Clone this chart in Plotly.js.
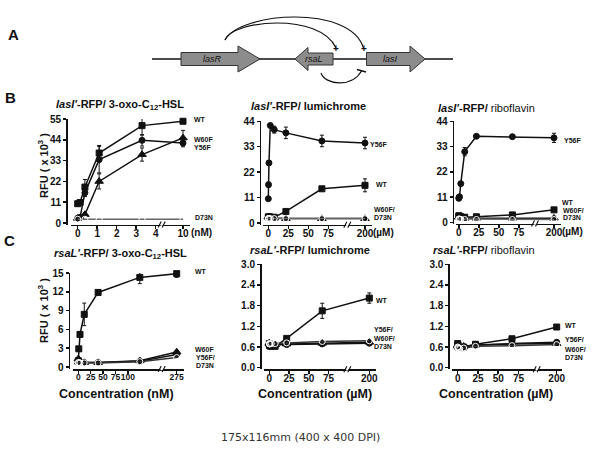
<!DOCTYPE html>
<html><head><meta charset="utf-8">
<script src="https://cdn.plot.ly/plotly-3.0.1.min.js"></script>
<style>html,body{margin:0;padding:0;background:#fff}#chart{width:600px;height:458px}</style>
</head><body><div id="chart"></div>
<script>
// ---------------- DATA ----------------
// Panel B, left: lasI'-RFP / 3-oxo-C12-HSL (nM), RFU x10^3
const hslConcB   = [0, 0.12, 0.37, 1.1, 3.3, 10];
const b1WT       = [10.2, 10.8, 19, 37, 51.5, 53.8];
const b1WTerr    = [0.6, 0.6, 4, 4, 5, 1];
const b1Y56F     = [2.5, 3, 16, 33.5, 43.7, 42.3];
const b1Y56Ferr  = [0.4, 0.4, 2, 7, 3, 2];
const b1W60F     = [2.5, 2.8, 4.5, 22, 36.2, 45];
const b1W60Ferr  = [0.3, 0.3, 1, 4, 3.5, 4];
const b1D73N     = [2, null, 2, 2, 2, 2];

// lumichrome / riboflavin concentrations (uM)
const flavConc   = [0, 0.27, 0.82, 2.5, 7.4, 22, 67, 200];
// Panel B, middle: lasI'-RFP / lumichrome
const b2Y56F     = [10.5, 16.6, 26, 42.2, 40.4, 39, 35.5, 34.6];
const b2Y56Ferr  = [0.5, 1, 1, 0.5, 1.5, 2.5, 2.5, 2.5];
const b2WT       = [2.6, 2.6, 2.6, 2.6, 2.5, 5.0, 14.8, 16.3];
const b2WTerr    = [0.3, 0.3, 0.3, 0.3, 0.3, 0.5, 0.5, 2.8];
const b2W60F     = [2.6, 2.7, 2.7, 2.6, 2.2, 1.9, 1.9, 1.9];
const b2D73N     = [1.9, 1.9, 1.9, 1.9, 1.9, 1.9, 1.9, 1.9];
// Panel B, right: lasI'-RFP / riboflavin
const b3Y56F     = [10.5, 10.8, 11.2, 16.9, 30.8, 37.5, 37.3, 36.8];
const b3Y56Ferr  = [0.5, 0.5, 0.5, 0.5, 1.8, 0.5, 0.5, 2];
const b3WT       = [2.9, 2.8, 2.7, 2.5, 2.3, 2.5, 3.3, 5.5];
const b3W60F     = [2.4, 2.3, 2.2, 2.0, 1.9, 1.9, 1.9, 1.9];
const b3D73N     = [1.5, 1.5, 1.4, 1.4, 1.3, 1.3, 1.3, 1.3];

// Panel C, left: rsaL'-RFP / 3-oxo-C12-HSL (nM)
const hslConcC   = [0, 1, 3.4, 12, 40, 124, 275];
const c1WT       = [1.0, 2.9, 5.2, 8.4, 11.9, 14.3, 14.9];
const c1WTerr    = [0.2, 0.3, 0.4, 1.8, 0.3, 1.0, 0.6];
const c1W60F     = [1.3, 0.8, 0.7, 0.7, 0.7, 1.0, 2.4];
const c1Y56F     = [0.8, 0.7, 0.7, 0.7, 0.7, 0.9, 2.0];
const c1D73N     = [0.7, 0.7, 0.65, 0.65, 0.65, 0.85, 1.5];
// Panel C, middle: rsaL'-RFP / lumichrome
const c2WT       = [0.7, 0.65, 0.63, 0.62, 0.62, 0.85, 1.65, 2.02];
const c2WTerr    = [0.05, 0.03, 0.03, 0.03, 0.03, 0.05, 0.22, 0.15];
const c2Y56F     = [0.65, 0.64, 0.64, 0.65, 0.66, 0.67, 0.69, 0.71];
const c2W60F     = [0.72, 0.7, 0.68, 0.67, 0.67, 0.69, 0.71, 0.74];
const c2D73N     = [0.7, 0.69, 0.69, 0.7, 0.7, 0.72, 0.76, 0.78];
// Panel C, right: rsaL'-RFP / riboflavin
const c3WT       = [0.7, 0.66, 0.6, 0.58, 0.6, 0.68, 0.84, 1.18];
const c3WTerr    = [0.06, 0.03, 0.03, 0.03, 0.03, 0.03, 0.04, 0.05];
const c3Y56F     = [0.62, 0.6, 0.58, 0.58, 0.6, 0.65, 0.7, 0.74];
const c3W60F     = [0.66, 0.63, 0.6, 0.6, 0.62, 0.66, 0.69, 0.7];
const c3D73N     = [0.6, 0.58, 0.56, 0.55, 0.57, 0.62, 0.64, 0.67];

// tick labels
const b1Ticks = ['0','1','2','3','4','10'];
const flavTicks = ['0','25','50','75','200'];
const c1Ticks = ['0','25','50','75','100','275'];

// ---------------- LAYOUT HELPERS ----------------
const W = 600, H = 458;
const fx = p => p / W, fy = p => 1 - p / H;
const FONT = 'Liberation Sans, Arial, sans-serif';

const panels = [
  {conc: hslConcB, limit: 5, tickv: [0,1,2,3,4], tickt: b1Ticks, unit: '(nM)', xfs: 10,
   yAxisX: 66, x0: 77.7, k: 19.5, farPx: 183, brkPx: 161.7, dl: 71, dr: 190,
   zeroPx: 223, topPx: 119, top: 55, botPx: 224.5, ytick: 11, yfmt: '',
   series: [
     {y: b1WT, e: b1WTerr, sym: 'square'},
     {y: b1Y56F, e: b1Y56Ferr, sym: 'circle'},
     {y: b1W60F, e: b1W60Ferr, sym: 'triangle-up'},
     {y: b1D73N, sym: 'circle-open', open: true}]},
  {conc: flavConc, limit: 100, tickv: [0,25,50,75], tickt: flavTicks, unit: '(\u00b5M)', xfs: 10,
   yAxisX: 259.5, x0: 268.3, k: 0.8, farPx: 365, brkPx: 347.3, dl: 263, dr: 372,
   zeroPx: 223, topPx: 121.3, top: 44, botPx: 224.7, ytick: 11, yfmt: '',
   series: [
     {y: b2WT, e: b2WTerr, sym: 'square'},
     {y: b2Y56F, e: b2Y56Ferr, sym: 'circle'},
     {y: b2W60F, sym: 'triangle-up'},
     {y: b2D73N, sym: 'circle-open', open: true}]},
  {conc: flavConc, limit: 100, tickv: [0,25,50,75], tickt: flavTicks, unit: '(\u00b5M)', xfs: 10,
   yAxisX: 452.7, x0: 458.8, k: 0.8, farPx: 554, brkPx: 535, dl: 456, dr: 561,
   zeroPx: 222.5, topPx: 121.3, top: 44, botPx: 223.5, ytick: 11, yfmt: '',
   series: [
     {y: b3WT, sym: 'square'},
     {y: b3Y56F, e: b3Y56Ferr, sym: 'circle'},
     {y: b3W60F, sym: 'triangle-up'},
     {y: b3D73N, sym: 'circle-open', open: true}]},
  {conc: hslConcC, limit: 150, tickv: [0,25,50,75,100], tickt: c1Ticks, unit: '', xfs: 8.5,
   yAxisX: 68.5, x0: 78.3, k: 0.496, farPx: 176.7, brkPx: 161.7, dl: 73, dr: 184,
   zeroPx: 367, topPx: 273, top: 15, botPx: 369, ytick: 3, yfmt: '',
   series: [
     {y: c1WT, e: c1WTerr, sym: 'square'},
     {y: c1Y56F, sym: 'circle'},
     {y: c1W60F, sym: 'triangle-up'},
     {y: c1D73N, sym: 'circle-open', open: true}]},
  {conc: flavConc, limit: 100, tickv: [0,25,50,75], tickt: flavTicks, unit: '', xfs: 10,
   yAxisX: 260, x0: 269.3, k: 0.79, farPx: 369.3, brkPx: 347.3, dl: 264, dr: 376,
   zeroPx: 367.7, topPx: 264.3, top: 3.0, botPx: 369.3, ytick: 0.6, yfmt: '.1f',
   series: [
     {y: c2WT, e: c2WTerr, sym: 'square'},
     {y: c2Y56F, sym: 'circle'},
     {y: c2W60F, sym: 'triangle-up'},
     {y: c2D73N, sym: 'circle-open', open: true}]},
  {conc: flavConc, limit: 100, tickv: [0,25,50,75], tickt: flavTicks, unit: '', xfs: 10,
   yAxisX: 448.3, x0: 457.7, k: 0.81, farPx: 556.7, brkPx: 536.7, dl: 452, dr: 562,
   zeroPx: 367.7, topPx: 264.3, top: 3.0, botPx: 369.3, ytick: 0.6, yfmt: '.1f',
   series: [
     {y: c3WT, e: c3WTerr, sym: 'square'},
     {y: c3Y56F, sym: 'circle'},
     {y: c3W60F, sym: 'triangle-up'},
     {y: c3D73N, sym: 'circle-open', open: true}]}
];

const traces = [];
const layout = {
  width: W, height: H, margin: {l: 0, r: 0, t: 0, b: 0},
  paper_bgcolor: '#fff', plot_bgcolor: 'rgba(0,0,0,0)', showlegend: false,
  font: {family: FONT, color: '#111'},
  annotations: [], shapes: []
};

const axisCommon = {
  showgrid: false, zeroline: false, showline: true, linecolor: '#111', linewidth: 1.5,
  ticks: 'outside', ticklen: 3, tickwidth: 1.5, tickcolor: '#111', fixedrange: true
};

const line = (x0, y0, x1, y1, w, col) => layout.shapes.push({type: 'line', xref: 'paper', yref: 'paper',
  layer: 'above', x0: fx(x0), y0: fy(y0), x1: fx(x1), y1: fy(y1), line: {color: col || '#111', width: w || 1.2}});

panels.forEach((p, i) => {
  const n = i + 1, sfx = n === 1 ? '' : String(n);
  const farPos = (p.farPx - p.x0) / p.k;
  const mapX = c => (c > p.limit ? farPos : c);
  const ky = (p.zeroPx - p.topPx) / p.top;
  const yMin = -(p.botPx - p.zeroPx) / ky;
  const yt = [];
  for (let v = 0; v <= p.top + 1e-9; v += p.ytick) yt.push(+v.toFixed(2));
  layout['xaxis' + sfx] = Object.assign({}, axisCommon, {
    domain: [fx(p.dl), fx(p.dr)], anchor: 'y' + sfx,
    range: [(p.dl - p.x0) / p.k, (p.dr - p.x0) / p.k],
    tickmode: 'array', tickvals: p.tickv.concat([farPos]), ticktext: p.tickt,
    tickangle: 0, ticklabelstandoff: -4,
    tickfont: {family: FONT, size: p.xfs, weight: 'bold', color: '#111'}
  });
  layout['yaxis' + sfx] = Object.assign({}, axisCommon, {
    domain: [fy(p.botPx), fy(p.topPx)], anchor: 'free', position: fx(p.yAxisX),
    range: [yMin, p.top], tickmode: 'array', tickvals: yt,
    ticktext: yt.map(v => p.yfmt ? v.toFixed(1) : String(v)),
    tickfont: {family: FONT, size: 10, weight: 'bold', color: '#111'}
  });
  p.series.forEach(s => {
    const xs = p.conc.map(mapX);
    const tr = {
      type: 'scatter', mode: 'lines+markers', x: xs, y: s.y, connectgaps: true,
      xaxis: 'x' + sfx, yaxis: 'y' + sfx, cliponaxis: false,
      line: {color: s.open ? (i < 3 ? '#666' : '#333') : '#111', width: 1.5},
      marker: {symbol: s.sym, size: s.sym === 'triangle-up' ? 7.5 : 6,
               color: s.open ? '#fff' : '#111',
               line: {color: s.open ? (i < 3 ? '#777' : '#444') : '#111', width: 1}}
    };
    if (s.e) tr.error_y = {type: 'data', array: s.e, visible: true, color: '#111', thickness: 1, width: 2};
    traces.push(tr);
  });
  // axis break mark "//"
  const b = p.brkPx, y = p.botPx;
  layout.shapes.push({type: 'rect', xref: 'paper', yref: 'paper', layer: 'above',
    x0: fx(b - 1.2), x1: fx(b + 1.2), y0: fy(y + 1.2), y1: fy(y - 1.2),
    fillcolor: '#fff', line: {width: 0}});
  line(b - 3.5, y + 3, b - 0.5, y - 3, 1.1);
  line(b + 0.5, y + 3, b + 3.5, y - 3, 1.1);
  if (p.unit) {
    layout.annotations.push({xref: 'paper', yref: 'paper', x: fx(p.farPx + 5.5), y: fy(p.botPx + 8),
      text: '<b>' + p.unit + '</b>', showarrow: false, font: {family: FONT, size: 10, color: '#111'},
      xanchor: 'left', yanchor: 'middle'});
  }
});

function txt(x, y, text, size, opts) {
  layout.annotations.push(Object.assign({xref: 'paper', yref: 'paper', x: fx(x), y: fy(y),
    text: text, showarrow: false, font: {family: FONT, size: size, color: '#111'},
    xanchor: 'center', yanchor: 'middle'}, opts || {}));
}
// panel titles
txt(120, 105, "<b><i>lasI'</i>-RFP/ 3-oxo-C<sub>12</sub>-HSL</b>", 11);
txt(308, 105.7, "<b><i>lasI'</i>-RFP/ lumichrome</b>", 11);
txt(486, 107.7, "<b><i>lasI'</i>-RFP/</b> riboflavin", 11);
txt(120, 254, "<b><i>rsaL'</i>-RFP/ 3-oxo-C<sub>12</sub>-HSL</b>", 11);
txt(310, 250, "<b><i>rsaL'</i>-RFP/ lumichrome</b>", 11);
txt(484, 250, "<b><i>rsaL'</i>-RFP/</b> riboflavin", 11);
// y titles
txt(43, 166, "<b>RFU ( x 10<sup>3</sup> )</b>", 11, {textangle: -90});
txt(43, 311, "<b>RFU ( x 10<sup>3</sup> )</b>", 11, {textangle: -90});
// x titles
txt(116, 394, "<b>Concentration (nM)</b>", 12.5);
txt(315, 394, "<b>Concentration (\u00b5M)</b>", 12.5);
txt(496, 394, "<b>Concentration (\u00b5M)</b>", 12.5);
// panel letters
txt(13, 34, "<b>A</b>", 15);
txt(10, 98, "<b>B</b>", 15);
txt(9, 241, "<b>C</b>", 15);
// series labels
const L = (x, y, t) => txt(x, y, '<b>' + t + '</b>', 7, {xanchor: 'left'});
L(192, 119.5, 'WT'); L(192, 139.7, 'W60F'); L(192, 147, 'Y56F'); L(193, 217.7, 'D73N');
L(368.3, 144.3, 'Y56F'); L(374, 184, 'WT'); L(371.7, 209, 'W60F/'); L(371.7, 217.7, 'D73N');
L(561.7, 140, 'Y56F'); L(560, 202.7, 'WT'); L(560.7, 210.7, 'W60F/'); L(560.7, 217.3, 'D73N');
L(193, 271, 'WT'); L(193, 349, 'W60F'); L(194, 357, 'Y56F/'); L(194, 365, 'D73N');
L(373.7, 300, 'WT'); L(372, 329.3, 'Y56F/'); L(372, 338.3, 'W60F/'); L(372, 346.7, 'D73N');
L(563, 325, 'WT'); L(563, 339, 'Y56F/'); L(563, 349, 'W60F/'); L(563, 357.7, 'D73N');
// footer
txt(300, 437, '175x116mm (400 x 400 DPI)', 11, {font: {family: 'DejaVu Sans, Verdana, sans-serif', size: 11, color: '#333'}});

// ---------------- PANEL A: gene diagram ----------------
const P = pts => 'M' + pts.map(q => fx(q[0]) + ',' + fy(q[1])).join(' L') + ' Z';
const curve = (pts, w) => layout.shapes.push({type: 'path', xref: 'paper', yref: 'paper',
  path: 'M' + fx(pts[0][0]) + ',' + fy(pts[0][1]) + ' C' + pts.slice(1).map(q => fx(q[0]) + ',' + fy(q[1])).join(' '),
  line: {color: '#111', width: w || 1.2}});
const gene = pts => layout.shapes.push({type: 'path', xref: 'paper', yref: 'paper', path: P(pts),
  fillcolor: '#8c8c8c', line: {color: '#333', width: 1}});
line(152, 59, 453, 59, 1.3);
gene([[181,52.5],[238,52.5],[238,46],[260,59],[238,72],[238,65.5],[181,65.5]]);
gene([[295,59],[308,47.5],[308,53],[333,53],[333,65],[308,65],[308,70.5]]);
gene([[366.5,52.5],[410,52.5],[410,46],[425,59],[410,72],[410,65.5],[366.5,65.5]]);
curve([[225,40],[232,20],[320,12],[336,48]]);
curve([[225,40],[240,12],[350,4],[363.5,48]]);
curve([[321,73],[325,85],[352,88],[361.5,71]]);
line(357, 69.5, 366, 72, 1.3);
txt(336, 49, '<b>+</b>', 10);
txt(363.5, 49, '<b>+</b>', 10);
txt(212, 59, '<i>lasR</i>', 9);
txt(314, 59, '<i>rsaL</i>', 9);
txt(390, 59, '<i>lasI</i>', 9);

Plotly.newPlot('chart', traces, layout, {displayModeBar: false, staticPlot: true});
</script>
</body></html>
